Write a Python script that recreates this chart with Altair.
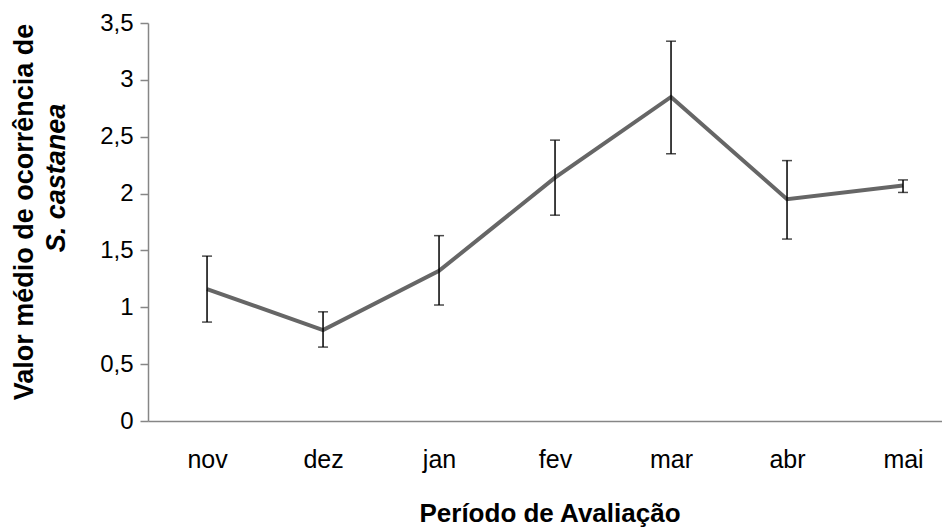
import json
import altair as alt
import pandas as pd

meses = ["nov", "dez", "jan", "fev", "mar", "abr", "mai"]
media = [1.16, 0.80, 1.32, 2.14, 2.85, 1.95, 2.07]
inferior = [0.87, 0.65, 1.02, 1.81, 2.35, 1.60, 2.01]
superior = [1.45, 0.96, 1.63, 2.47, 3.34, 2.29, 2.12]
y_ticks = [0, 0.5, 1, 1.5, 2, 2.5, 3, 3.5]

titulo_y1 = "Valor médio de ocorrência de"
titulo_y2 = "S. castanea"
titulo_x = "Período de Avaliação"

df = pd.DataFrame({
    "idx": list(range(len(meses))),
    "mes": meses,
    "media": media,
    "lo": inferior,
    "hi": superior,
})

W, H = 794, 398
FONT = "Liberation Sans"

x_enc = alt.X(
    "idx:Q",
    scale=alt.Scale(domain=[-0.509, 6.336], nice=False, zero=False),
    axis=alt.Axis(
        values=list(range(len(meses))),
        labelExpr=json.dumps(meses) + "[datum.value]",
        ticks=False, grid=False, title=None,
        labelPadding=46, labelBaseline="alphabetic", labelFlush=False,
        labelFontSize=25, labelFont=FONT, labelColor="black",
        domainColor="#868686", domainWidth=1.5,
    ),
)
y_enc = alt.Y(
    "media:Q",
    scale=alt.Scale(domain=[0, 3.5], nice=False),
    axis=alt.Axis(
        values=y_ticks,
        labelExpr="replace(toString(datum.value), '.', ',')",
        grid=False, title=None, labelOverlap=False, labelFlush=False,
        labelFontSize=24, labelFont=FONT, labelColor="black", labelPadding=7,
        tickSize=8, tickColor="#868686", tickWidth=1.5,
        domainColor="#868686", domainWidth=1.5,
    ),
)

base = alt.Chart(df)
linha = base.mark_line(color="#666666", strokeWidth=4).encode(x=x_enc, y=y_enc)
barras = base.mark_rule(color="black", strokeWidth=1.5).encode(x="idx:Q", y="lo:Q", y2="hi:Q")
cap_lo = base.mark_tick(color="black", thickness=1.5, size=10, orient="horizontal").encode(x="idx:Q", y="lo:Q")
cap_hi = base.mark_tick(color="black", thickness=1.5, size=10, orient="horizontal").encode(x="idx:Q", y="hi:Q")

def texto(t, x, y, size, style="normal", baseline="middle"):
    return alt.Chart(pd.DataFrame({"t": [t]})).mark_text(
        angle=270 if style != "x" else 0,
        fontSize=size, fontWeight="bold", font=FONT,
        fontStyle="italic" if style == "italic" else "normal",
        align="center", baseline=baseline, color="black",
    ).encode(text="t:N", x=alt.value(x), y=alt.value(y))

t1 = texto(titulo_y1, -123, 189, 27)
t2 = texto(titulo_y2, -91, 155, 27, "italic")
t3 = texto(titulo_x, 402, 499, 26, "x", "alphabetic")

chart = alt.layer(linha, barras, cap_lo, cap_hi, t1, t2, t3).properties(
    width=W, height=H,
    autosize=alt.AutoSizeParams(type="none"),
    padding={"left": 140, "top": 15, "right": 0, "bottom": 107},
    background="white",
).configure_view(stroke=None)

chart.save("out.html", embed_options={"renderer": "svg", "actions": False})
